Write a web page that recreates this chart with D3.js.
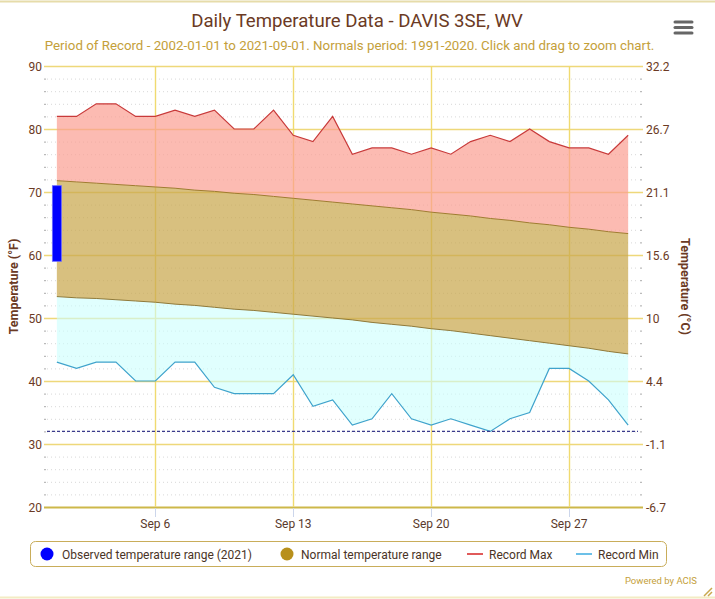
<!DOCTYPE html>
<html>
<head>
<meta charset="utf-8">
<script src="https://cdn.jsdelivr.net/npm/d3@7/dist/d3.min.js"></script>
<style>
  html, body { margin: 0; padding: 0; background: #ffffff; }
  svg { display: block; font-family: Roboto, "Noto Sans", sans-serif; }
</style>
</head>
<body>
<svg id="chart" width="715" height="599"></svg>
<script>
// ---------------- data ----------------
const days = [1,2,3,4,5,6,7,8,9,10,11,12,13,14,15,16,17,18,19,20,21,22,23,24,25,26,27,28,29,30];
const recordMax = [82,82,84,84,82,82,83,82,83,80,80,83,79,78,82,76,77,77,76,77,76,78,79,78,80,78,77,77,76,79];
const recordMin = [43,42,43,43,40,40,43,43,39,38,38,38,41,36,37,33,34,38,34,33,34,33,32,34,35,42,42,40,37,33];
const normalMax = [71.8,71.6,71.4,71.2,71.0,70.8,70.6,70.3,70.1,69.8,69.6,69.3,69.0,68.7,68.4,68.1,67.8,67.5,67.2,66.8,66.5,66.2,65.8,65.5,65.1,64.8,64.4,64.1,63.7,63.4];
const normalMin = [53.4,53.2,53.1,52.9,52.7,52.5,52.2,52.0,51.7,51.4,51.2,50.9,50.6,50.3,50.0,49.7,49.3,49.0,48.7,48.3,48.0,47.6,47.2,46.8,46.4,46.0,45.6,45.2,44.7,44.3];
const obsDays = [1];
const obsHigh = [71];
const obsLow = [59];
const freezeLine = 32;
const fTicks = [20,30,40,50,60,70,80,90];
const cTickLabels = ["-6.7","-1.1","4.4","10","15.6","21.1","26.7","32.2"];
const xTickDays = [6,13,20,27];
const xTickLabels = ["Sep 6","Sep 13","Sep 20","Sep 27"];
const legendItems = ["Observed temperature range (2021)","Normal temperature range","Record Max","Record Min"];

// ---------------- layout ----------------
const svg = d3.select("#chart");
const L = 47, R = 638, T = 66, B = 507;
const x = d3.scaleLinear().domain([0.5, 30.5]).range([L, R]);
const y = d3.scaleLinear().domain([20, 90]).range([B, T]);

const brown = "#6b3a24";
const gold = "#c4a03a";

// outer frame lines
svg.append("line").attr("x1",0).attr("x2",715).attr("y1",1.5).attr("y2",1.5)
  .attr("stroke","#e6dcaa").attr("stroke-width",2);
svg.append("line").attr("x1",0).attr("x2",715).attr("y1",597.5).attr("y2",597.5)
  .attr("stroke","#f3ecc4").attr("stroke-width",2);

// title & subtitle
svg.append("text").attr("x",357).attr("y",27).attr("text-anchor","middle")
  .attr("font-size",18.6).attr("fill",brown).text("Daily Temperature Data - DAVIS 3SE, WV");
svg.append("text").attr("x",349.5).attr("y",50).attr("text-anchor","middle")
  .attr("font-size",13.3).attr("fill",gold)
  .text("Period of Record - 2002-01-01 to 2021-09-01. Normals period: 1991-2020. Click and drag to zoom chart.");

// hamburger menu
[22,27.5,33].forEach(yy => {
  svg.append("line").attr("x1",675).attr("x2",692).attr("y1",yy).attr("y2",yy)
    .attr("stroke","#666").attr("stroke-width",3).attr("stroke-linecap","round");
});

// minor gridlines (every 2°F)
const minor = d3.range(20, 91, 2).filter(v => v % 10 !== 0);
svg.append("g").selectAll("line").data(minor).join("line")
  .attr("x1",L).attr("x2",R).attr("y1",d=>y(d)+0.5).attr("y2",d=>y(d)+0.5)
  .attr("stroke","#d8d8d8").attr("stroke-width",1).attr("stroke-dasharray","1,3");
// minor ticks left/right
svg.append("g").selectAll("line").data(minor).join("line")
  .attr("x1",L-3).attr("x2",L-1).attr("y1",d=>y(d)+0.5).attr("y2",d=>y(d)+0.5)
  .attr("stroke","#aaa");
svg.append("g").selectAll("line").data(minor).join("line")
  .attr("x1",R+2).attr("x2",R+4).attr("y1",d=>y(d)+0.5).attr("y2",d=>y(d)+0.5)
  .attr("stroke","#aaa");

// major horizontal gridlines
svg.append("g").selectAll("line").data(fTicks).join("line")
  .attr("x1",L-3).attr("x2",R+5).attr("y1",d=>y(d)+0.5).attr("y2",d=>y(d)+0.5)
  .attr("stroke",d => d === 20 ? "#cdb84a" : "#eed87a").attr("stroke-width",d => d===20?2:1.3);

// vertical gridlines
svg.append("g").selectAll("line").data(xTickDays).join("line")
  .attr("x1",d=>Math.round(x(d))+0.5).attr("x2",d=>Math.round(x(d))+0.5)
  .attr("y1",T).attr("y2",B)
  .attr("stroke","#f0da70").attr("stroke-width",1.4);
// x tick marks
svg.append("g").selectAll("line").data(xTickDays).join("line")
  .attr("x1",d=>Math.round(x(d))+0.5).attr("x2",d=>Math.round(x(d))+0.5)
  .attr("y1",B+1).attr("y2",B+10)
  .attr("stroke","#ccd6eb").attr("stroke-width",1);

// areas
const idx = days.map((d,i)=>i);
const areaTop = d3.area().x(i=>x(days[i])).y0(i=>y(normalMax[i])).y1(i=>y(recordMax[i]));
const areaMid = d3.area().x(i=>x(days[i])).y0(i=>y(normalMin[i])).y1(i=>y(normalMax[i]));
const areaBot = d3.area().x(i=>x(days[i])).y0(i=>y(recordMin[i])).y1(i=>y(normalMin[i]));

svg.append("path").attr("d",areaTop(idx)).attr("fill","#fb9e92").attr("fill-opacity",0.7);
svg.append("path").attr("d",areaBot(idx)).attr("fill","#ccfffd").attr("fill-opacity",0.6);
svg.append("path").attr("d",areaMid(idx)).attr("fill","#c9a84e").attr("fill-opacity",0.72);

// lines
const line = arr => d3.line().x(i=>x(days[i])).y(i=>y(arr[i]));
svg.append("path").attr("d",line(normalMax)(idx)).attr("fill","none").attr("stroke","#a07c30").attr("stroke-width",1);
svg.append("path").attr("d",line(normalMin)(idx)).attr("fill","none").attr("stroke","#8f7a3a").attr("stroke-width",1);
svg.append("path").attr("d",line(recordMax)(idx)).attr("fill","none").attr("stroke","#c83a3a").attr("stroke-width",1.2);
svg.append("path").attr("d",line(recordMin)(idx)).attr("fill","none").attr("stroke","#3fa3cc").attr("stroke-width",1.2);

// freezing line
svg.append("line").attr("x1",L).attr("x2",R).attr("y1",y(freezeLine)).attr("y2",y(freezeLine))
  .attr("stroke","#3b3b8c").attr("stroke-width",1.3).attr("stroke-dasharray","3,2");

// observed range bar
svg.append("g").selectAll("rect").data(obsDays).join("rect")
  .attr("x",(d)=>x(d)-4.5).attr("width",9)
  .attr("y",(d,i)=>y(obsHigh[i])).attr("height",(d,i)=>y(obsLow[i])-y(obsHigh[i]))
  .attr("fill","#0000ff").attr("stroke","#6a6aff").attr("stroke-width",0.8);

// left axis labels
svg.append("g").selectAll("text").data(fTicks).join("text")
  .attr("x",L-5).attr("y",d=>y(d)+4.5).attr("text-anchor","end")
  .attr("font-size",12).attr("fill",brown).text(d=>d);
// right axis labels
svg.append("g").selectAll("text").data(fTicks).join("text")
  .attr("x",R+8).attr("y",d=>y(d)+4.5).attr("text-anchor","start")
  .attr("font-size",12).attr("fill",brown).text((d,i)=>cTickLabels[i]);
// x labels
svg.append("g").selectAll("text").data(xTickDays).join("text")
  .attr("x",d=>x(d)).attr("y",B+21).attr("text-anchor","middle")
  .attr("font-size",12).attr("fill","#5a3a2c").text((d,i)=>xTickLabels[i]);

// axis titles
svg.append("text").attr("transform",`translate(18,${(T+B)/2}) rotate(-90)`)
  .attr("text-anchor","middle").attr("font-size",12.5).attr("font-weight","bold")
  .attr("fill",brown).text("Temperature (°F)");
svg.append("text").attr("transform",`translate(681,${(T+B)/2}) rotate(90)`)
  .attr("text-anchor","middle").attr("font-size",12.5).attr("font-weight","bold")
  .attr("fill",brown).text("Temperature (°C)");

// legend
svg.append("rect").attr("x",30.5).attr("y",541.5).attr("width",636).attr("height",25)
  .attr("rx",5).attr("fill","#fff").attr("stroke","#c9ad5a").attr("stroke-width",1);
const lg = svg.append("g").attr("font-size",12).attr("fill","#4a3426");
lg.append("circle").attr("cx",47).attr("cy",554).attr("r",6.5).attr("fill","#0000ff");
lg.append("text").attr("x",62).attr("y",558.5).text(legendItems[0]);
lg.append("circle").attr("cx",287).attr("cy",554).attr("r",6.5).attr("fill","#b8901c");
lg.append("text").attr("x",301).attr("y",558.5).text(legendItems[1]);
lg.append("line").attr("x1",467).attr("x2",483).attr("y1",554).attr("y2",554).attr("stroke","#e05a5a").attr("stroke-width",2);
lg.append("text").attr("x",489).attr("y",558.5).text(legendItems[2]);
lg.append("line").attr("x1",576).attr("x2",592).attr("y1",554).attr("y2",554).attr("stroke","#6cc0e8").attr("stroke-width",2);
lg.append("text").attr("x",598).attr("y",558.5).text(legendItems[3]);

// credits
svg.append("text").attr("x",697).attr("y",584).attr("text-anchor","end")
  .attr("font-size",9.5).attr("fill",gold).text("Powered by ACIS");

// resize handle
svg.append("path").attr("d","M704,596 L712,588 M708,596 L712,592").attr("stroke","#c9a84e").attr("stroke-width",1.5);
</script>
</body>
</html>
